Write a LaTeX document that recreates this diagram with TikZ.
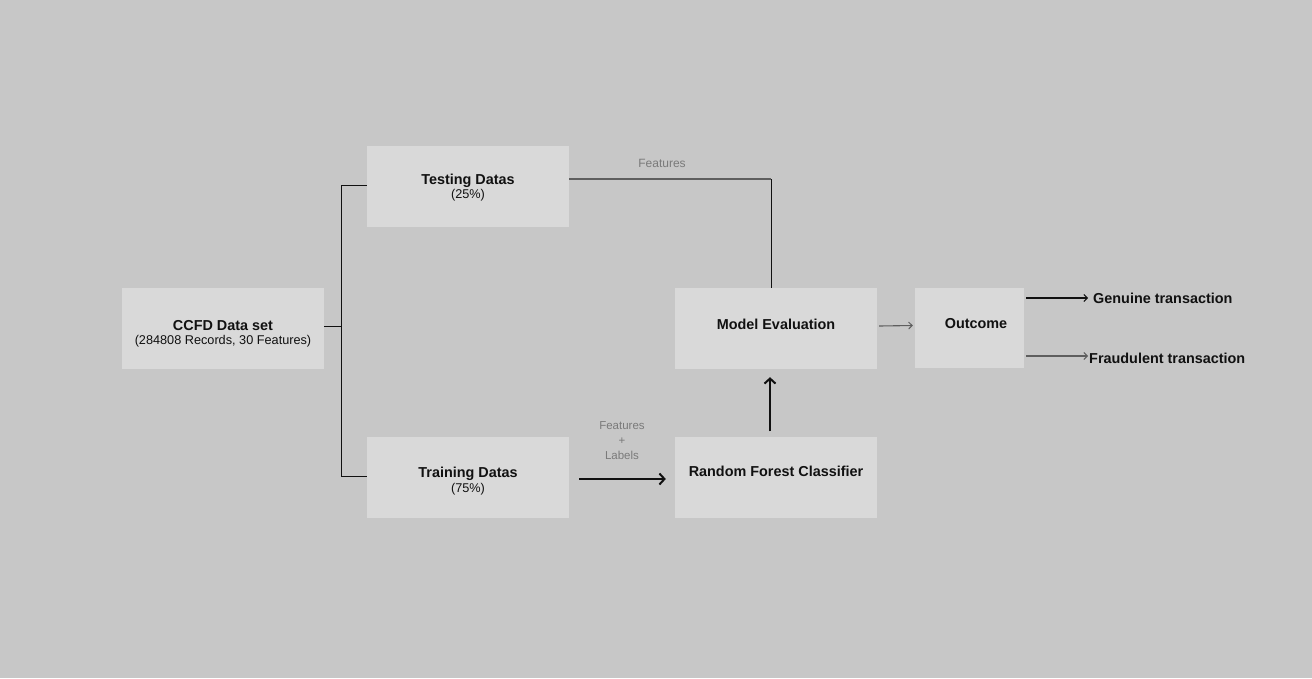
\documentclass[tikz,border=0pt]{standalone}
\usepackage{fontspec}
\setmainfont{Liberation Sans}
\usetikzlibrary{arrows.meta}
\definecolor{bg}{HTML}{C7C7C7}
\definecolor{boxfill}{HTML}{D9D9D9}
\definecolor{ink}{HTML}{111111}
\definecolor{lgrey}{HTML}{7A7A7A}
\definecolor{lnGrey}{HTML}{5E5E5E}
\tikzset{
  box/.style={draw=none, fill=boxfill, minimum width=202pt, minimum height=81pt, inner sep=0pt},
  title/.style={font=\fontsize{14.4}{16}\selectfont\bfseries, text=ink, inner sep=0pt, align=center},
  sub/.style={font=\fontsize{12.7}{15}\selectfont, text=ink, inner sep=0pt},
  glabel/.style={font=\fontsize{12}{15}\selectfont, text=lgrey, inner sep=0pt, align=center},
  thin/.style={draw=ink, line width=1pt},
  greyline/.style={draw=lnGrey, line width=1.3pt},
  bigarrow/.style={draw=ink, line width=2pt, -{Straight Barb[length=5pt,width=11pt,line width=2pt]}},
  smallarrow/.style={line width=1.1pt, -{Straight Barb[length=3.5pt,width=7pt,line width=1pt]}},
}
\begin{document}
\begin{tikzpicture}[x=1pt,y=-1pt]
\fill[bg] (0,0) rectangle (1312,678);
\useasboundingbox (0,0) rectangle (1312,678);

% boxes
\node[box] (ccfd) at (223,328.5) {};
\node[box] (test) at (468,186.5) {};
\node[box] (train) at (468,477.5) {};
\node[box] (model) at (776,328.5) {};
\node[box] (rfc) at (776,477.5) {};
\node[box, minimum width=109pt, minimum height=80pt] (out) at (969.5,328) {};

% texts
\node[title] (ccfdt) at ([yshift=2.5pt]ccfd.center) {CCFD Data set};
\node[sub] (ccfds) at ([yshift=-13pt]ccfd.center) {(284808 Records, 30 Features)};
\node[title] (testt) at ([yshift=6pt]test.center) {Testing Datas};
\node[sub] (tests) at ([yshift=-8.5pt]test.center) {(25\%)};
\node[title] (traint) at ([yshift=4pt]train.center) {Training Datas};
\node[sub] (trains) at ([yshift=-11.5pt]train.center) {(75\%)};
\node[title] (modelt) at ([yshift=4.5pt]model.center) {Model Evaluation};
\node[title] (rfct) at ([yshift=6.5pt]rfc.center) {Random Forest Classifier};
\node[title] (outt) at (976,324) {Outcome};

% split connectors
\coordinate (j) at (341,326);
\draw[thin] (ccfd.east |- j) -- (j);
\draw[thin] ([yshift=1.5pt]test.west) -- ([yshift=1.5pt]test.west -| j) -- ([yshift=1.5pt]train.west -| j) -- ([yshift=1.5pt]train.west);

% testing -> model evaluation
\coordinate (tc) at (771,179);
\draw[greyline] (test.east |- tc) -- (tc);
\draw[thin] (tc) -- (tc |- model.north);
\node[glabel] (featlab) at (662,163) {Features};

% training -> rfc
\draw[bigarrow] ([shift={(10,1.5)}]train.east) -- ([shift={(-9,1.5)}]rfc.west);
\node[glabel, font=\fontsize{11.5}{15}\selectfont] (fllab) at (622,441) {Features\\+\\Labels};

% rfc -> model
\draw[bigarrow] ([shift={(-6,-5.5)}]rfc.north) -- ([shift={(-6,8)}]model.south);

% model -> outcome
\draw[smallarrow, draw=lnGrey] ([shift={(2,-2.5)}]model.east) -- ([shift={(-2,-2.5)}]out.west);

% outcome -> results
\node[title, anchor=west] (gen) at (1093,298) {Genuine transaction};
\node[title, anchor=west] (fraud) at (1089,358) {Fraudulent transaction};
\draw[smallarrow, draw=ink] ([xshift=2pt]out.east |- 0,298) -- ([xshift=-5pt]gen.west |- 0,298);
\draw[smallarrow, draw=lnGrey] ([xshift=2pt]out.east |- 0,356) -- ([xshift=-1pt]fraud.west |- 0,356);
\end{tikzpicture}
\end{document}
